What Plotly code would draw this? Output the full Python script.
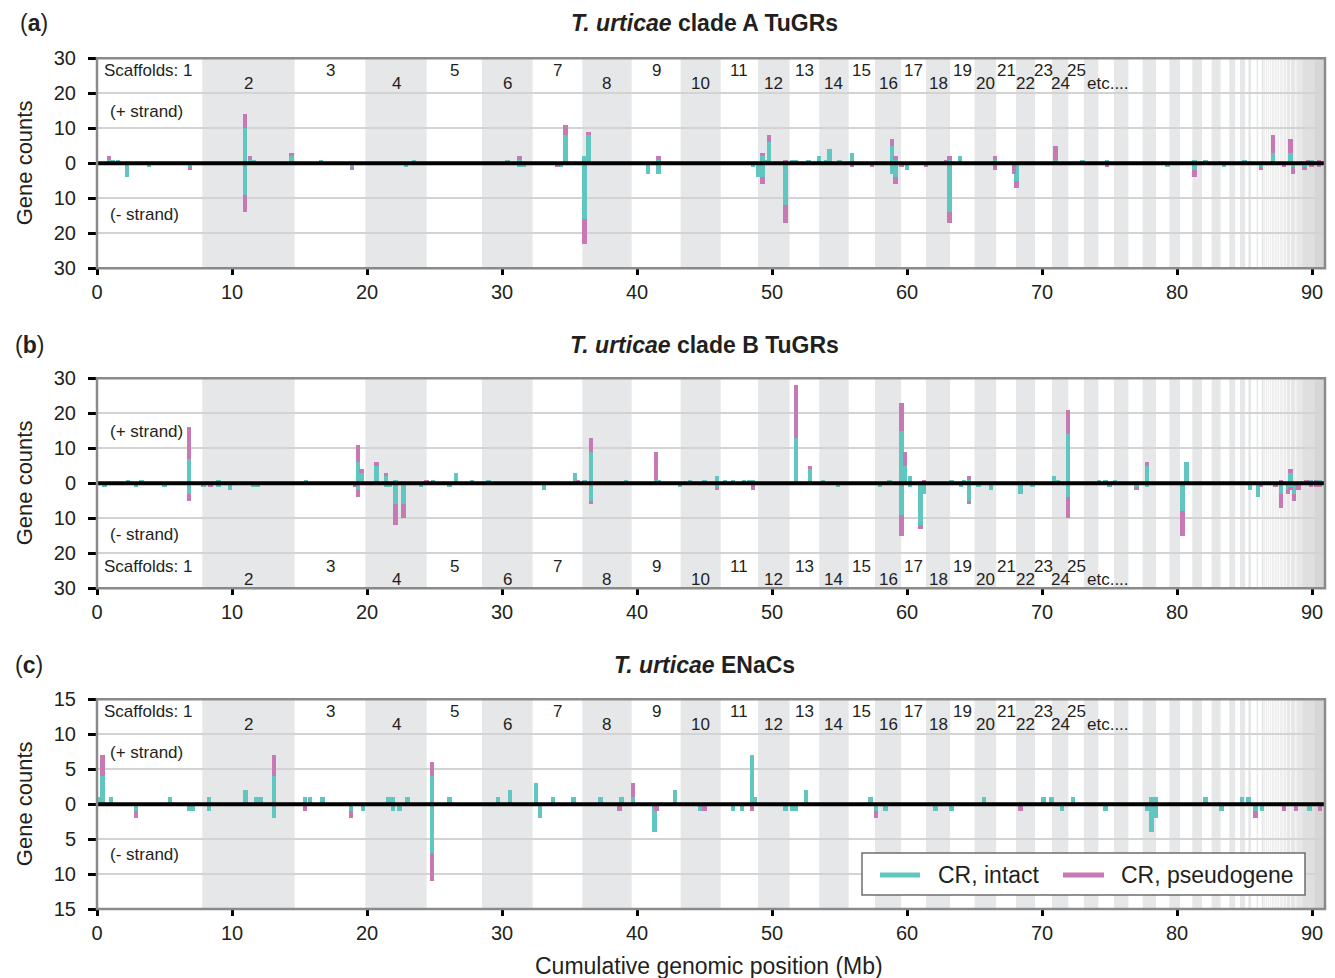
import plotly.graph_objects as go

# ---------------- data ----------------
# scaffold boundaries along the cumulative genome (Mb)
scaffold_edges = [0, 7.8, 14.64, 19.88, 24.42, 28.52, 32.27, 35.95, 39.6, 43.23, 46.2,
                  48.96, 51.3, 53.5, 55.68, 57.63, 59.56, 61.4, 63.19, 65.0, 66.6,
                  68.07, 69.48, 70.74, 71.95, 73.1, 74.17, 75.33, 76.4, 77.45, 78.44,
                  79.43, 80.22, 81.13, 81.85, 82.56, 83.23, 83.87, 84.3, 84.67, 85.04,
                  85.28, 85.48, 85.9, 86.0, 86.27, 86.4]
small_scaffold_region = [86.4, 90.96]
scaffold_labels = ["1", "2", "3", "4", "5", "6", "7", "8", "9", "10", "11", "12", "13",
                   "14", "15", "16", "17", "18", "19", "20", "21", "22", "23", "24", "25"]

x_ticks = [0, 10, 20, 30, 40, 50, 60, 70, 80, 90]
series_names = ["CR, intact", "CR, pseudogene"]

# panel (a): T. urticae clade A TuGRs
a_pos = [0.9, 1.2, 1.55, 2.2, 3.85, 6.9, 10.95, 11.35, 11.65, 14.4, 16.6, 18.9, 22.9, 23.5,
         30.4, 31.3, 31.6, 34.1, 34.35, 34.7, 36.1, 36.4, 40.8, 41.6, 48.6, 49.0, 49.3, 49.55,
         49.8, 51.0, 51.5, 51.8, 52.7, 53.5, 54.0, 54.25, 55.0, 55.9, 57.4, 58.9, 59.15, 59.6,
         60.0, 61.4, 62.9, 63.15, 63.9, 66.5, 67.9, 68.1, 71.0, 73.0, 74.8, 79.3, 81.3, 82.1,
         83.5, 85.0, 86.2, 87.1, 87.9, 88.4, 88.6, 89.45, 89.7, 89.95, 90.5]
a_plus_intact = [1, 1, 1, 0, 0, 0, 10, 1, 1, 2, 1, 0, 0, 1,
                 1, 1, 0, 0, 0, 8, 2, 8, 0, 1, 0, 0, 2, 1,
                 6, 0, 1, 1, 1, 2, 1, 4, 1, 3, 0, 5, 1, 0,
                 0, 0, 0, 1, 2, 1, 0, 0, 1, 1, 1, 0, 1, 1,
                 0, 1, 0, 3, 0, 3, 0, 0, 0, 1, 0]
a_plus_pseudo = [1, 0, 0, 0, 0, 0, 4, 1, 0, 1, 0, 0, 0, 0,
                 0, 1, 0, 0, 0, 3, 0, 1, 0, 1, 0, 0, 1, 0,
                 2, 1, 0, 0, 0, 0, 0, 0, 0, 0, 0, 2, 1, 0,
                 0, 0, 1, 1, 0, 1, 0, 0, 4, 0, 0, 0, 0, 0,
                 0, 0, 0, 5, 0, 4, 0, 0, 1, 0, 1]
a_minus_intact = [0, 0, 0, 4, 1, 1, 9, 0, 0, 0, 0, 1, 1, 0,
                  0, 1, 1, 0, 1, 0, 16, 0, 3, 3, 1, 4, 4, 0,
                  0, 12, 0, 0, 0, 0, 0, 0, 0, 0, 0, 3, 4, 0,
                  2, 0, 0, 14, 0, 0, 0, 5, 0, 0, 0, 1, 2, 0,
                  1, 0, 1, 0, 0, 0, 1, 1, 0, 0, 0]
a_minus_pseudo = [0, 0, 0, 0, 0, 1, 5, 0, 0, 0, 0, 1, 0, 0,
                  0, 0, 0, 1, 0, 0, 7, 0, 0, 0, 0, 0, 2, 0,
                  0, 5, 0, 0, 0, 0, 0, 0, 0, 1, 1, 0, 2, 1,
                  0, 1, 0, 3, 0, 2, 3, 2, 0, 0, 1, 0, 2, 0,
                  0, 0, 1, 0, 1, 0, 2, 1, 0, 1, 1]

# panel (b): T. urticae clade B TuGRs
b_pos = [0.55, 2.3, 2.9, 3.3, 5.0, 6.8, 7.9, 8.4, 9.0, 9.85, 11.6, 11.9, 15.5, 19.1,
         19.35, 19.6, 20.7, 21.4, 21.7, 22.1, 22.7, 24.0, 24.4, 24.9, 26.1, 26.6, 27.8, 29.0,
         33.1, 35.4, 35.65, 36.1, 36.6, 39.2, 41.4, 41.65, 43.2, 43.9, 45.0, 45.9, 46.5, 47.1,
         47.9, 48.3, 48.6, 51.8, 52.8, 53.8, 54.9, 58.0, 58.7, 59.6, 59.85, 60.2, 61.0, 61.25,
         63.3, 64.0, 64.2, 64.6, 65.3, 66.2, 68.4, 69.3, 70.9, 71.2, 71.9, 74.2, 74.7, 75.0,
         75.4, 77.0, 77.8, 80.4, 80.7, 85.4, 86.0, 86.2, 87.3, 87.7, 88.2, 88.4, 88.65, 89.0,
         89.6, 89.9, 90.3, 90.6]
b_plus_intact = [0, 1, 0, 1, 0, 7, 0, 0, 1, 0, 0, 0, 1, 0,
                 6, 3, 5, 2, 0, 1, 0, 0, 0, 1, 0, 3, 1, 1,
                 0, 3, 0, 1, 9, 1, 1, 1, 0, 1, 1, 2, 1, 1,
                 1, 1, 1, 13, 4, 1, 0, 0, 1, 15, 5, 2, 0, 0,
                 1, 0, 1, 1, 0, 0, 0, 0, 2, 1, 14, 1, 1, 0,
                 1, 0, 5, 0, 6, 0, 0, 0, 0, 0, 0, 3, 0, 0,
                 0, 1, 0, 1]
b_plus_pseudo = [0, 0, 0, 0, 0, 9, 0, 0, 0, 0, 0, 0, 0, 0,
                 5, 1, 1, 1, 0, 0, 0, 0, 1, 0, 0, 0, 0, 0,
                 0, 0, 1, 0, 4, 0, 8, 0, 0, 0, 0, 0, 0, 0,
                 0, 0, 0, 15, 1, 0, 0, 0, 0, 8, 4, 0, 0, 1,
                 0, 0, 0, 1, 0, 0, 0, 0, 0, 0, 7, 0, 0, 0,
                 0, 0, 1, 0, 0, 0, 0, 0, 0, 1, 0, 1, 0, 0,
                 1, 0, 1, 0]
b_minus_intact = [1, 0, 1, 0, 1, 3, 1, 0, 1, 2, 1, 1, 0, 0,
                  2, 0, 0, 1, 1, 6, 6, 1, 0, 0, 1, 0, 0, 0,
                  2, 0, 0, 0, 5, 0, 0, 0, 1, 0, 0, 1, 0, 0,
                  0, 0, 0, 0, 0, 0, 1, 1, 0, 9, 0, 1, 12, 3,
                  0, 1, 0, 5, 1, 2, 3, 1, 0, 0, 4, 0, 0, 1,
                  0, 1, 1, 8, 0, 2, 4, 0, 0, 3, 2, 1, 3, 0,
                  0, 0, 0, 0]
b_minus_pseudo = [0, 0, 0, 0, 0, 2, 0, 1, 0, 0, 0, 0, 0, 1,
                  2, 0, 0, 0, 0, 6, 4, 0, 0, 0, 0, 0, 0, 0,
                  0, 0, 0, 0, 1, 0, 0, 0, 0, 0, 0, 1, 0, 0,
                  0, 0, 2, 0, 0, 0, 0, 0, 0, 6, 0, 0, 1, 0,
                  0, 0, 0, 1, 0, 0, 0, 0, 0, 0, 6, 0, 0, 0,
                  0, 1, 0, 7, 0, 0, 0, 1, 1, 4, 1, 1, 2, 2,
                  0, 1, 1, 1]

# panel (c): T. urticae ENaCs
c_pos = [0.15, 0.4, 1.05, 2.9, 5.4, 6.8, 7.1, 8.3, 11.0, 11.8, 12.1, 13.1, 15.4, 15.8,
         16.7, 18.8, 19.7, 21.6, 21.9, 22.4, 23.0, 24.8, 26.1, 29.7, 30.6, 32.5, 32.8, 33.8,
         35.3, 37.3, 38.7, 38.85, 39.7, 41.3, 41.45, 42.8, 44.7, 45.0, 47.1, 47.8, 48.5, 48.75,
         51.0, 51.5, 51.75, 52.5, 57.3, 57.7, 58.4, 62.1, 63.3, 65.7, 68.4, 70.1, 70.7, 71.5,
         72.3, 74.7, 77.8, 78.1, 78.4, 82.1, 83.3, 84.8, 85.3, 85.8, 86.3, 87.9, 88.8, 89.8,
         90.6]
c_plus_intact = [1, 4, 1, 0, 1, 0, 0, 1, 2, 1, 1, 4, 1, 1,
                 1, 0, 0, 1, 1, 0, 1, 4, 1, 1, 2, 3, 0, 1,
                 1, 1, 0, 1, 1, 0, 0, 2, 0, 0, 0, 0, 7, 1,
                 0, 0, 0, 2, 1, 0, 0, 0, 0, 1, 0, 1, 1, 0,
                 1, 0, 0, 1, 1, 1, 0, 1, 1, 0, 0, 0, 0, 0,
                 0]
c_plus_pseudo = [0, 3, 0, 0, 0, 0, 0, 0, 0, 0, 0, 3, 0, 0,
                 0, 0, 0, 0, 0, 0, 0, 2, 0, 0, 0, 0, 0, 0,
                 0, 0, 0, 0, 2, 0, 0, 0, 0, 0, 0, 0, 0, 0,
                 0, 0, 0, 0, 0, 0, 0, 0, 0, 0, 0, 0, 0, 0,
                 0, 0, 0, 0, 0, 0, 0, 0, 0, 0, 0, 0, 0, 0,
                 0]
c_minus_intact = [0, 0, 0, 1, 0, 1, 1, 1, 0, 0, 0, 2, 0, 0,
                  0, 1, 1, 0, 1, 1, 0, 7, 0, 0, 0, 0, 2, 0,
                  0, 0, 0, 0, 0, 4, 0, 0, 1, 0, 1, 1, 0, 0,
                  1, 1, 1, 0, 0, 1, 1, 1, 1, 0, 0, 0, 0, 1,
                  0, 1, 1, 4, 2, 0, 1, 0, 0, 1, 1, 0, 0, 1,
                  0]
c_minus_pseudo = [0, 0, 0, 1, 0, 0, 0, 0, 0, 0, 0, 0, 1, 0,
                  0, 1, 0, 0, 0, 0, 0, 4, 0, 0, 0, 0, 0, 0,
                  0, 0, 1, 0, 0, 0, 1, 0, 0, 1, 0, 0, 1, 0,
                  0, 0, 0, 0, 0, 1, 0, 0, 0, 0, 1, 0, 0, 0,
                  0, 0, 0, 0, 0, 0, 0, 0, 0, 1, 0, 1, 1, 0,
                  1]

# ---------------- style ----------------
TEAL = '#62c6c0'
PINK = '#c679b4'
BAND = '#e6e7e8'
TXT = '#231f20'
FONT = 'Arial, "Liberation Sans", Helvetica, sans-serif'
OFF = 8                     # page body margin
FW, FH = 1335 - OFF, 978 - OFF
BAR_W = 0.32


def pxx(p):
    return (p - OFF) / FW


def pyy(p):
    return 1 - (p - OFF) / FH


panels = [
    dict(n=1, top=58.3, bottom=268.3, ymax=30, step=10, labels_top=True, tag='a', tag_x=18, title_y=23,
         title='<b><i>T. urticae</i> clade A TuGRs</b>',
         data=(a_pos, a_plus_intact, a_plus_pseudo, a_minus_intact, a_minus_pseudo)),
    dict(n=2, top=378.3, bottom=588.3, ymax=30, step=10, labels_top=False, tag='b', tag_x=13, title_y=345,
         title='<b><i>T. urticae</i> clade B TuGRs</b>',
         data=(b_pos, b_plus_intact, b_plus_pseudo, b_minus_intact, b_minus_pseudo)),
    dict(n=3, top=699.3, bottom=909.0, ymax=15, step=5, labels_top=True, tag='c', tag_x=13, title_y=665,
         title='<b><i>T. urticae</i> ENaCs</b>',
         data=(c_pos, c_plus_intact, c_plus_pseudo, c_minus_intact, c_minus_pseudo)),
]

fig = go.Figure()
shapes = []
annotations = []
layout_axes = {}

for p in panels:
    n = p['n']
    sfx = '' if n == 1 else str(n)
    xa, ya = 'x' + sfx, 'y' + sfx
    pos, pi, pp, mi, mp = p['data']

    for vals, col, nm in ((pi, TEAL, series_names[0]), (pp, PINK, series_names[1])):
        fig.add_trace(go.Bar(x=pos, y=vals, width=BAR_W, name=nm,
                             marker=dict(color=col, line=dict(width=0)),
                             xaxis=xa, yaxis=ya, showlegend=False, hoverinfo='skip'))
    for vals, col, nm in ((mi, TEAL, series_names[0]), (mp, PINK, series_names[1])):
        fig.add_trace(go.Bar(x=pos, y=[-v for v in vals], width=BAR_W, name=nm,
                             marker=dict(color=col, line=dict(width=0)),
                             xaxis=xa, yaxis=ya, showlegend=False, hoverinfo='skip'))

    # alternating scaffold bands (even scaffolds grey)
    for i in range(1, len(scaffold_edges) - 1, 2):
        shapes.append(dict(type='rect', xref=xa, yref=ya + ' domain', x0=scaffold_edges[i],
                           x1=scaffold_edges[i + 1], y0=0, y1=1, fillcolor=BAND,
                           line=dict(width=0), layer='below'))
    # many tiny scaffolds at the end: a fading grey block
    s0, s1 = small_scaffold_region
    for x0, col in ((s0, '#ededee'), (88.0, 'rgba(0,0,0,0.025)'), (89.3, 'rgba(0,0,0,0.03)'),
                    (90.2, 'rgba(0,0,0,0.04)')):
        shapes.append(dict(type='rect', xref=xa, yref=ya + ' domain', x0=x0, x1=s1, y0=0, y1=1,
                           fillcolor=col, line=dict(width=0), layer='below'))
    for xl in (86.55, 86.7, 86.85, 87.0, 87.2, 87.4, 87.6, 87.85, 88.1, 88.4, 88.8):
        shapes.append(dict(type='line', xref=xa, yref=ya + ' domain', x0=xl, x1=xl, y0=0, y1=1,
                           line=dict(color='rgba(255,255,255,0.85)', width=1), layer='below'))

    # zero line
    shapes.append(dict(type='line', xref=xa + ' domain', yref=ya, x0=0, x1=1, y0=0, y1=0,
                       line=dict(color='black', width=4), layer='above'))
    # frame
    shapes.append(dict(type='rect', xref=xa + ' domain', yref=ya + ' domain', x0=0, x1=1, y0=0, y1=1,
                       line=dict(color='#8a8a8a', width=2.5), fillcolor='rgba(0,0,0,0)', layer='above'))

    ymax, step = p['ymax'], p['step']
    yt = list(range(-ymax, ymax + 1, step))
    layout_axes['xaxis' + sfx] = dict(
        domain=[pxx(97), pxx(1325)], range=[0, 90.96], anchor=ya, automargin=False,
        tickvals=x_ticks, ticktext=[str(t) for t in x_ticks],
        ticks='outside', ticklen=6, tickwidth=2.5, tickcolor='black',
        showline=False, showgrid=False, zeroline=False, ticklabelstandoff=0,
        tickfont=dict(size=20, color=TXT, family=FONT), fixedrange=True)
    layout_axes['yaxis' + sfx] = dict(
        domain=[pyy(p['bottom']), pyy(p['top'])], range=[-ymax, ymax], anchor=xa, automargin=False,
        tickvals=yt, ticktext=[str(abs(t)) for t in yt],
        ticks='outside', ticklen=8, tickwidth=3, tickcolor='black',
        showline=False, showgrid=True, gridcolor='#d3d3d3', gridwidth=2, zeroline=False,
        ticklabelstandoff=8, tickfont=dict(size=20, color=TXT, family=FONT), fixedrange=True)

    # scaffold labels
    if p['labels_top']:
        y_odd, y_even = 0.944, 0.882
    else:
        y_odd, y_even = 0.106, 0.044
    for k, lab in enumerate(scaffold_labels):
        cx = (scaffold_edges[k] + scaffold_edges[k + 1]) / 2
        if k == 0:
            annotations.append(dict(text='Scaffolds: ' + lab, xref=xa, yref=ya + ' domain', x=0.35,
                                    y=y_odd, xanchor='left', yanchor='middle', showarrow=False,
                                    font=dict(size=17, color=TXT, family=FONT)))
            continue
        annotations.append(dict(text=lab, xref=xa, yref=ya + ' domain', x=cx,
                                y=y_odd if k % 2 == 0 else y_even, xanchor='center',
                                yanchor='middle', showarrow=False,
                                font=dict(size=17, color=TXT, family=FONT)))
    annotations.append(dict(text='etc....', xref=xa, yref=ya + ' domain', x=73.2, y=y_even,
                            xanchor='left', yanchor='middle', showarrow=False,
                            font=dict(size=17, color=TXT, family=FONT)))
    # strand labels
    annotations.append(dict(text='(+ strand)', xref=xa, yref=ya + ' domain', x=0.8, y=0.746,
                            xanchor='left', yanchor='middle', showarrow=False,
                            font=dict(size=17, color=TXT, family=FONT)))
    annotations.append(dict(text='(- strand)', xref=xa, yref=ya + ' domain', x=0.8, y=0.258,
                            xanchor='left', yanchor='middle', showarrow=False,
                            font=dict(size=17, color=TXT, family=FONT)))
    # y title
    annotations.append(dict(text='Gene counts', xref='paper', yref='paper', x=pxx(24),
                            y=pyy((p['top'] + p['bottom']) / 2), textangle=-90,
                            xanchor='center', yanchor='middle', showarrow=False,
                            font=dict(size=22, color=TXT, family=FONT)))
    # panel tag and title
    annotations.append(dict(text='(<b>%s</b>)' % p['tag'], xref='paper', yref='paper',
                            x=pxx(p['tag_x']), y=pyy(p['title_y']), xanchor='left', yanchor='middle',
                            showarrow=False, font=dict(size=23, color=TXT, family=FONT)))
    annotations.append(dict(text=p['title'], xref='paper', yref='paper', x=pxx(704),
                            y=pyy(p['title_y']), xanchor='center', yanchor='middle',
                            showarrow=False, font=dict(size=23, color=TXT, family=FONT)))

annotations.append(dict(text='Cumulative genomic position (Mb)', xref='paper', yref='paper',
                        x=pxx(709), y=pyy(966), xanchor='center', yanchor='middle', showarrow=False,
                        font=dict(size=23, color=TXT, family=FONT)))

# legend box (panel c)
shapes.append(dict(type='rect', xref='paper', yref='paper', x0=pxx(862), x1=pxx(1305),
                   y0=pyy(895), y1=pyy(853), fillcolor='white',
                   line=dict(color='#6d6d6d', width=1.5), layer='above'))
for (lx0, lx1, tx), col, nm in (((880, 920, 936), TEAL, series_names[0]),
                                ((1063, 1104, 1119), PINK, series_names[1])):
    shapes.append(dict(type='line', xref='paper', yref='paper', x0=pxx(lx0), x1=pxx(lx1),
                       y0=pyy(875), y1=pyy(875), line=dict(color=col, width=5), layer='above'))
    annotations.append(dict(text=nm, xref='paper', yref='paper', x=pxx(tx), y=pyy(875),
                            xanchor='left', yanchor='middle', showarrow=False,
                            font=dict(size=23, color=TXT, family=FONT)))

fig.update_layout(
    width=FW, height=FH, margin=dict(l=0, r=0, t=0, b=0, autoexpand=False),
    paper_bgcolor='white', plot_bgcolor='white',
    barmode='relative', bargap=0,
    font=dict(family=FONT, color=TXT),
    shapes=shapes, annotations=annotations,
    showlegend=False,
    **layout_axes,
)

fig.write_html('out.html')
